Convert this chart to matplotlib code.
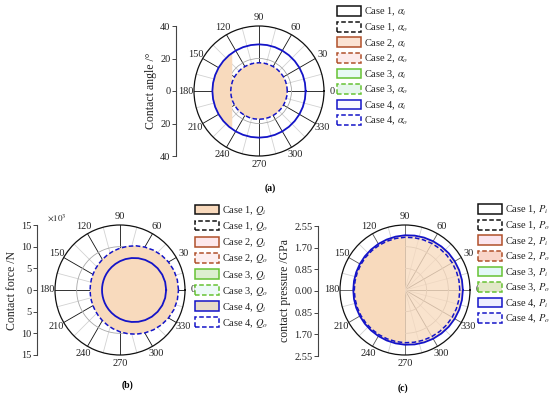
import numpy as np
import matplotlib
matplotlib.use('Agg')
import matplotlib.pyplot as plt
from matplotlib.patches import Patch
from matplotlib.ticker import FixedLocator, FuncFormatter

plt.rcParams['font.family'] = ['Liberation Serif', 'DejaVu Serif']
plt.rcParams['mathtext.fontset'] = 'stix'

# ---------------- data ----------------
theta_deg = list(range(0, 361, 10))

# (a) contact angle (deg), Case 4 (other cases coincide)
alpha_i = [28.7] * 37
alpha_o = [17.4] * 37
alpha_fill_theta = [125, 130, 135, 140, 145, 150, 155, 160, 165, 170, 175, 180,
                    185, 190, 195, 200, 205, 210, 215, 220, 225, 230, 235]
alpha_fill_r = [28.7] * 23

# (b) contact force (x10^3 N)
Q_i = [10.65, 10.58, 10.37, 10.03, 9.59, 9.06, 8.47, 7.85, 7.24, 6.65, 6.11, 5.63, 5.22,
       4.88, 4.61, 4.40, 4.26, 4.18, 4.15, 4.18, 4.26, 4.40, 4.61, 4.88, 5.22, 5.63,
       6.11, 6.65, 7.24, 7.85, 8.47, 9.06, 9.59, 10.03, 10.37, 10.58, 10.65]
Q_o = [13.50, 13.43, 13.24, 12.92, 12.50, 12.00, 11.44, 10.85, 10.24, 9.65, 9.10, 8.59,
       8.14, 7.76, 7.45, 7.21, 7.04, 6.93, 6.90, 6.93, 7.04, 7.21, 7.45, 7.76, 8.14,
       8.59, 9.10, 9.65, 10.24, 10.85, 11.44, 12.00, 12.50, 12.92, 13.24, 13.43, 13.50]

# (c) contact pressure (GPa)
P_i = [2.270, 2.268, 2.262, 2.253, 2.241, 2.225, 2.208, 2.188, 2.168, 2.147, 2.126,
       2.106, 2.088, 2.071, 2.057, 2.045, 2.037, 2.032, 2.030, 2.032, 2.037, 2.045,
       2.057, 2.071, 2.088, 2.106, 2.126, 2.147, 2.168, 2.188, 2.208, 2.225, 2.241,
       2.253, 2.262, 2.268, 2.270]
P_o = [2.150, 2.149, 2.145, 2.139, 2.131, 2.121, 2.109, 2.096, 2.082, 2.069, 2.055,
       2.041, 2.029, 2.018, 2.008, 2.000, 1.994, 1.991, 1.990, 1.991, 1.994, 2.000,
       2.008, 2.018, 2.029, 2.041, 2.055, 2.069, 2.082, 2.096, 2.109, 2.121, 2.131,
       2.139, 2.145, 2.149, 2.150]

angle_labels = ['0', '30', '60', '90', '120', '150', '180', '210', '240', '270', '300', '330']

cases = ['Case 1', 'Case 2', 'Case 3', 'Case 4']
edge_colors = ['#111111', '#B0502A', '#66C233', '#1414C8']
legend_faces_a = [('#FFFFFF', '#FFFFFF'), ('#FBE3D3', '#FDEBEB'),
                  ('#E8FAF5', '#E6F6EC'), ('#F8F8FF', '#FFFFFF')]
legend_faces_b = [('#F8D9BC', '#FFFFFF'), ('#FDE8EC', '#FDEFF0'),
                  ('#DDEFD0', '#EEFAF8'), ('#E8DCC8', '#FFFFFF')]
legend_faces_c = [('#FFFFFF', '#FFFFFF'), ('#FBE5EE', '#F9D5C8'),
                  ('#E3F8F8', '#E2E8C8'), ('#EEEEFF', '#F6F6FF')]

PEACH = '#F8DABD'
BLUE = '#1414C8'
DASH = (0, (3, 1.6))

# ---------------- layout helpers ----------------
W, H = 550, 395
fig = plt.figure(figsize=(5.5, 3.95), dpi=100)


def rect(x0, y0, x1, y1):
    return [x0 / W, 1 - y1 / H, (x1 - x0) / W, (y1 - y0) / H]


def polar_panel(cx, cy, rad, rmax, rgrid, spoke_color):
    ax = fig.add_axes(rect(cx - rad, cy - rad, cx + rad, cy + rad), projection='polar')
    ax.set_thetagrids(np.arange(0, 360, 30), labels=angle_labels, fontsize=7.5)
    ax.xaxis.set_minor_locator(FixedLocator(np.deg2rad(np.arange(15, 360, 30))))
    ax.set_rgrids(rgrid, labels=[''] * len(rgrid))
    ax.set_ylim(0, rmax)
    ax.xaxis.grid(True, which='major', color=spoke_color, lw=0.6)
    ax.xaxis.grid(True, which='minor', color='#d2d2d2', lw=0.6)
    ax.yaxis.grid(True, color='#a8a8a8', lw=0.6)
    ax.set_axisbelow(True)
    ax.tick_params(axis='x', which='both', length=0, pad=-1.0, colors='#222222')
    ax.spines['polar'].set_linewidth(0.9)
    ax.spines['polar'].set_color('#111111')
    return ax


def radial_axis(x, y0, y1, lim, ticks, fmt, label):
    ax = fig.add_axes([x / W, 1 - y1 / H, 0.0005, (y1 - y0) / H])
    ax.set_ylim(-lim, lim)
    for s in ['top', 'right', 'bottom']:
        ax.spines[s].set_visible(False)
    ax.spines['left'].set_color('#444444')
    ax.spines['left'].set_linewidth(0.8)
    ax.set_xticks([])
    ax.set_yticks(ticks)
    ax.yaxis.set_major_formatter(FuncFormatter(lambda v, p: fmt.format(abs(v))))
    ax.tick_params(axis='y', length=3, width=0.7, labelsize=7.5, pad=1,
                   color='#444444', labelcolor='#222222')
    ax.patch.set_visible(False)
    ax.set_ylabel(label, fontsize=8.5, color='#222222', labelpad=2)
    return ax


def legend(sym, faces, x, y):
    handles, labels = [], []
    for c, e, (fi, fo) in zip(cases, edge_colors, faces):
        handles.append(Patch(facecolor=fi, edgecolor=e, lw=1.1))
        labels.append(f'{c}, ${sym}_i$')
        handles.append(Patch(facecolor=fo, edgecolor=e, lw=1.1, linestyle=DASH))
        labels.append(f'{c}, ${sym}_o$')
    fig.legend(handles, labels, loc='upper left', bbox_to_anchor=(x / W, 1 - y / H),
               frameon=False, fontsize=7.5, handlelength=2.3, handleheight=1.05,
               labelspacing=0.3, handletextpad=0.3, borderpad=0, borderaxespad=0,
               labelcolor='#222222')


th = np.deg2rad(theta_deg)

# ---------------- panel (a) ----------------
ax_a = polar_panel(259, 91, 65, 40, [20], '#111111')
ax_a.fill(np.deg2rad(alpha_fill_theta), alpha_fill_r, color=PEACH, lw=0, zorder=1)
ax_a.fill(th, alpha_o, color=PEACH, lw=0, zorder=1)
ax_a.plot(th, alpha_i, color=BLUE, lw=1.3, zorder=3)
ax_a.plot(th, alpha_o, color=BLUE, lw=1.1, ls=DASH, zorder=3)
radial_axis(176, 26, 156, 40, [-40, -20, 0, 20, 40], '{:.0f}', 'Contact angle /°')
legend(r'\alpha', legend_faces_a, 337, 6)
fig.text(270 / W, 1 - 188 / H, '(a)', ha='center', va='center', fontsize=7, fontweight='bold')

# ---------------- panel (b) ----------------
ax_b = polar_panel(120, 290, 65, 15, [5, 10], '#111111')
ax_b.fill(th, Q_o, color=PEACH, lw=0, zorder=1)
ax_b.plot(th, Q_i, color=BLUE, lw=1.3, zorder=3)
ax_b.plot(th, Q_o, color=BLUE, lw=1.1, ls=DASH, zorder=3)
radial_axis(37, 225, 355, 15, [-15, -10, -5, 0, 5, 10, 15], '{:.0f}', 'Contact force /N')
fig.text(47 / W, 1 - 218 / H, r'$\times10^3$', fontsize=6.5, color='#222222', va='center')
legend('Q', legend_faces_b, 195, 204)
fig.text(127 / W, 1 - 385 / H, '(b)', ha='center', va='center', fontsize=7, fontweight='bold')

# ---------------- panel (c) ----------------
ax_c = polar_panel(405, 290, 65, 2.55, [0.85, 1.70], '#555555')
ax_c.fill(th, P_i, color=PEACH, lw=0, alpha=0.75, zorder=1)
left = slice(9, 28)
ax_c.fill(list(th[left]) + [0], P_i[left] + [0], color=PEACH, lw=0, zorder=1.5)
ax_c.plot(th, P_i, color=BLUE, lw=1.3, zorder=3)
ax_c.plot(th, P_o, color=BLUE, lw=1.1, ls=DASH, zorder=3)
radial_axis(318, 226, 356, 2.55, [-2.55, -1.70, -0.85, 0, 0.85, 1.70, 2.55], '{:.2f}',
            'contact pressure /GPa')
legend('P', legend_faces_c, 478, 204)
fig.text(403 / W, 1 - 388 / H, '(c)', ha='center', va='center', fontsize=7, fontweight='bold')

fig.savefig('out.png', dpi=100)
